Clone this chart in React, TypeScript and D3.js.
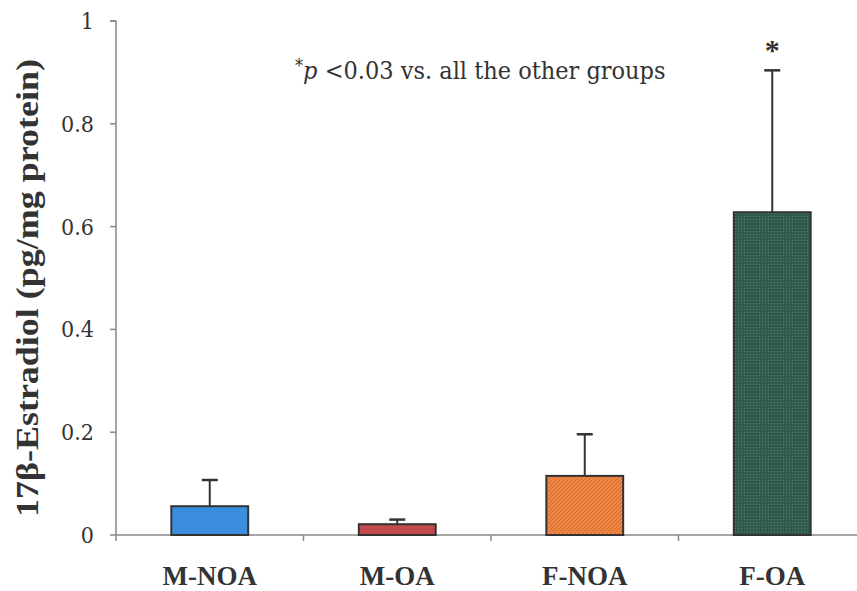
import React, { useEffect, useRef } from 'react';
import * as d3 from 'd3';

const groups = ['M-NOA', 'M-OA', 'F-NOA', 'F-OA'];
const means = [0.056, 0.021, 0.115, 0.628];
const errors = [0.051, 0.009, 0.081, 0.276];
const fills = ['#3b8ede', '#c04a4c', '#ee8644', '#2f5a4d'];
const yTicks = [0, 0.2, 0.4, 0.6, 0.8, 1];

const App = () => {
  const ref = useRef<SVGSVGElement>(null);

  useEffect(() => {
    const width = 857;
    const left = 116, right = 866, top = 21, bottom = 535;
    const svg = d3.select(ref.current);
    svg.selectAll('*').remove();

    const x = d3.scaleBand().domain(groups).range([left, right]);
    const y = d3.scaleLinear().domain([0, 1]).range([bottom, top]);
    const barW = x.bandwidth() * 0.41;
    const font = '"Liberation Serif", serif';
    const plain = '"DejaVu Serif Condensed", "DejaVu Serif", serif';

    // patterns for the textured bars
    const defs = svg.append('defs');
    const hatch = defs.append('pattern').attr('id', 'hatch')
      .attr('width', 4).attr('height', 4).attr('patternUnits', 'userSpaceOnUse');
    hatch.append('rect').attr('width', 4).attr('height', 4).attr('fill', fills[2]);
    hatch.append('path').attr('d', 'M0,4 L4,0').attr('stroke', '#d0642a').attr('stroke-width', 0.8);
    const dots = defs.append('pattern').attr('id', 'dots')
      .attr('width', 3).attr('height', 3).attr('patternUnits', 'userSpaceOnUse');
    dots.append('rect').attr('width', 3).attr('height', 3).attr('fill', fills[3]);
    dots.append('rect').attr('width', 1).attr('height', 1).attr('fill', '#5a8070');

    const barFill = (i) => (i === 2 ? 'url(#hatch)' : i === 3 ? 'url(#dots)' : fills[i]);

    // y axis, drawn by hand so the labels keep the serif face
    const yAxis = svg.append('g');
    yAxis.append('path').attr('fill', 'none').attr('stroke', '#888').attr('stroke-width', 1.5)
      .attr('d', `M${left - 6},${top}H${left}V${bottom + 6}`);
    const yt = yAxis.selectAll('.ytick').data(yTicks).enter().append('g')
      .attr('transform', d => `translate(${left},${y(d)})`);
    yt.append('line').attr('x2', -6).attr('stroke', '#888').attr('stroke-width', 1.5);
    yt.append('text').attr('x', -22).attr('dy', '0.35em').attr('text-anchor', 'end')
      .attr('font-family', plain).attr('font-size', 23).attr('fill', '#333')
      .text(d => d3.format('~g')(d));

    // x axis
    svg.append('line').attr('x1', left).attr('x2', width).attr('y1', bottom).attr('y2', bottom)
      .attr('stroke', '#888').attr('stroke-width', 1.5);
    svg.selectAll('.xtick').data(groups.slice(1)).enter().append('line')
      .attr('x1', d => x(d)).attr('x2', d => x(d))
      .attr('y1', bottom).attr('y2', bottom + 6)
      .attr('stroke', '#888').attr('stroke-width', 1.5);
    svg.selectAll('.xlab').data(groups).enter().append('text')
      .attr('x', d => x(d) + x.bandwidth() / 2).attr('y', 585)
      .attr('text-anchor', 'middle').attr('font-family', font)
      .attr('font-weight', 'bold').attr('font-size', 27).attr('fill', '#333')
      .text(d => d);

    // error bars
    const errG = svg.append('g');
    groups.forEach((g, i) => {
      const cx = x(g) + x.bandwidth() / 2;
      errG.append('line').attr('x1', cx).attr('x2', cx)
        .attr('y1', y(means[i])).attr('y2', y(means[i] + errors[i]))
        .attr('stroke', '#333').attr('stroke-width', 2);
      errG.append('line').attr('x1', cx - 8).attr('x2', cx + 8)
        .attr('y1', y(means[i] + errors[i])).attr('y2', y(means[i] + errors[i]))
        .attr('stroke', '#333').attr('stroke-width', 2.5);
    });

    // bars
    svg.selectAll('.bar').data(groups).enter().append('rect')
      .attr('x', d => x(d) + (x.bandwidth() - barW) / 2)
      .attr('y', (d, i) => y(means[i]))
      .attr('width', barW)
      .attr('height', (d, i) => bottom - y(means[i]))
      .attr('fill', (d, i) => barFill(i))
      .attr('stroke', '#333').attr('stroke-width', 2);

    // significance star
    const last = groups.length - 1;
    svg.append('text')
      .attr('x', x(groups[last]) + x.bandwidth() / 2)
      .attr('y', y(means[last] + errors[last]) - 10)
      .attr('text-anchor', 'middle').attr('font-family', font)
      .attr('font-weight', 'bold').attr('font-size', 30).attr('fill', '#333')
      .text('*');

    // annotation
    const note = svg.append('text').attr('x', 295).attr('y', 79)
      .attr('font-family', plain).attr('font-size', 25).attr('fill', '#333');
    note.append('tspan').attr('font-size', 18).attr('dy', -7).text('*');
    note.append('tspan').attr('font-style', 'italic').attr('dy', 7).text('p');
    note.append('tspan').text(' <0.03 vs. all the other groups');

    // y title
    svg.append('text')
      .attr('transform', `translate(38,288) rotate(-90)`)
      .attr('text-anchor', 'middle').attr('font-family', font)
      .attr('font-weight', 'bold').attr('font-size', 31).attr('fill', '#333')
      .attr('textLength', 458).attr('lengthAdjust', 'spacingAndGlyphs')
      .text('17β-Estradiol (pg/mg protein)');
  }, []);

  return (
    <div style={{ position: 'absolute', left: 0, top: 0 }}>
      <svg ref={ref} width={857} height={591} style={{ display: 'block', background: '#fff' }} />
    </div>
  );
};

export default App;
